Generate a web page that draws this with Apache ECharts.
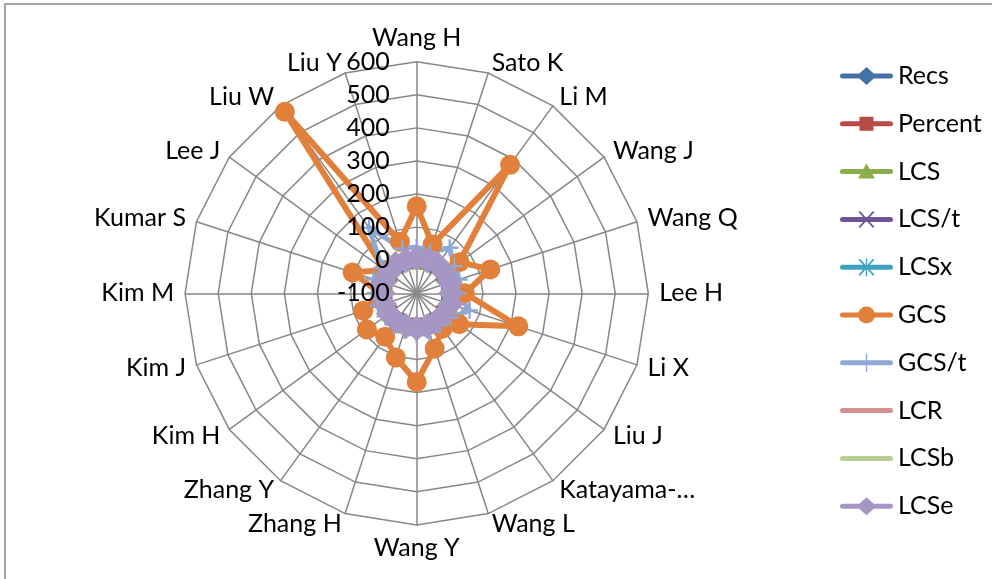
<!DOCTYPE html>
<html><head><meta charset="utf-8">
<script src="https://cdn.jsdelivr.net/npm/echarts@6/dist/echarts.min.js"></script>
<style>html,body{margin:0;padding:0;background:#fff}#c{width:992px;height:579px}</style>
</head><body><div id="c"></div><script>
const categories = ['Wang H','Sato K','Li M','Wang J','Wang Q','Lee H','Li X','Liu J','Katayama-…','Wang L','Wang Y','Zhang H','Zhang Y','Kim H','Kim J','Kim M','Kumar S','Lee J','Liu W','Liu Y'];
const seriesNames = ['Recs','Percent','LCS','LCS/t','LCSx','GCS','GCS/t','LCR','LCSb','LCSe'];
const recs    = [6,3,9,3,4,3,6,3,2,3,5,3,3,3,3,2,4,3,10,4];
const percent = [1.2,0.6,1.8,0.6,0.8,0.6,1.2,0.6,0.4,0.6,1.0,0.6,0.6,0.6,0.6,0.4,0.8,0.6,2.0,0.8];
const lcs     = [3,1,6,1,2,1,4,1,0,1,2,1,1,1,1,0,2,1,8,2];
const lcsT    = [0.5,0.2,1.0,0.2,0.3,0.2,0.6,0.2,0.0,0.2,0.3,0.2,0.2,0.2,0.2,0.0,0.3,0.2,1.2,0.3];
const lcsX    = [2,1,4,1,1,1,2,1,0,1,1,1,1,1,1,0,1,1,5,1];
const gcs     = [163,55,380,60,134,46,223,59,32,76,168,104,62,86,70,10,104,20,578,64];
const gcsT    = [40,30,70,40,35,24,68,26,20,24,26,18,18,18,22,26,38,30,145,42];
const lcr     = [4,2,7,2,3,2,5,2,1,2,4,2,2,2,2,1,3,2,9,3];
const lcsB    = [3,1,5,1,2,1,3,1,1,1,2,1,1,1,1,1,2,1,6,2];
const lcsE    = [6,4,8,4,5,4,7,4,3,4,6,4,4,4,4,3,5,4,9,5];
const radialMin = -100, radialMax = 600, radialSplits = 7;

const values = [recs, percent, lcs, lcsT, lcsX, gcs, gcsT, lcr, lcsB, lcsE];
const colors = ['#4472A8','#B94A48','#8AAE4B','#6F5496','#3FA3C0','#E0803A','#8EA9D6','#D6908F','#B8D094','#A596C4'];
const pX = 'path://M0,1.2 L1.2,0 L10,8.8 L8.8,10 Z M8.8,0 L10,1.2 L1.2,10 L0,8.8 Z';
const pAst = 'path://M0,1.2 L1.2,0 L10,8.8 L8.8,10 Z M8.8,0 L10,1.2 L1.2,10 L0,8.8 Z M4.4,0 L5.6,0 L5.6,10 L4.4,10 Z';
const pPlus = 'path://M4.3,0 L5.7,0 L5.7,4.3 L10,4.3 L10,5.7 L5.7,5.7 L5.7,10 L4.3,10 L4.3,5.7 L0,5.7 L0,4.3 L4.3,4.3 Z';
const symbols = ['diamond','rect','triangle',pX,pAst,'circle',pPlus,'none','none','diamond'];
const symSizes = [20,15,17,14,14,20,17,0,0,26];
const lineWidths = [5,5,5,5,5,6,5,5,5,6];

const bar = 'M0,0 M53,18 M2.5,6.5 L50.5,6.5 A2.5,2.5 0 0 1 50.5,11.5 L2.5,11.5 A2.5,2.5 0 0 1 2.5,6.5 Z';
const legendIcons = [
  'path://' + bar + ' M26.5,0 L36.5,9 L26.5,18 L16.5,9 Z',
  'path://' + bar + ' M19.5,2 L33.5,2 L33.5,16 L19.5,16 Z',
  'path://' + bar + ' M26.5,1 L35,16 L18,16 Z',
  'path://' + bar + ' M18.5,1.5 L20,0.5 L34.5,16.5 L33,17.5 Z M33,0.5 L34.5,1.5 L20,17.5 L18.5,16.5 Z',
  'path://' + bar + ' M18.5,1.5 L20,0.5 L34.5,16.5 L33,17.5 Z M33,0.5 L34.5,1.5 L20,17.5 L18.5,16.5 Z M25.8,0 L27.2,0 L27.2,18 L25.8,18 Z',
  'path://' + bar + ' M18,9 A8.5,8.5 0 1 1 35,9 A8.5,8.5 0 1 1 18,9 Z',
  'path://' + bar + ' M25.8,0 L27.2,0 L27.2,18 L25.8,18 Z',
  'path://' + bar,
  'path://' + bar,
  'path://' + bar + ' M26.5,0 L36.5,9 L26.5,18 L16.5,9 Z'
];

// ECharts radar runs counter-clockwise; reorder so categories run clockwise like the reference
const order = categories.map((_, i) => (categories.length - i) % categories.length);
const FONT = 'Lato';
const CX = 416.7, CY = 293.3, R = 231.6;
const indicator = order.map(i => ({ name: categories[i], min: radialMin, max: radialMax }));
const labelIndicator = order.map(i => ({ name: categories[i], min: radialMin, max: radialMax }));
labelIndicator[0].axisLabel = { show: true, color: '#000', fontSize: 25, fontFamily: FONT, showMinLabel: true, showMaxLabel: true, margin: 27, padding: [4, 0, 0, 0] };

const series = seriesNames.map((n, k) => ({
  type: 'radar',
  name: n,
  radarIndex: 0,
  symbol: symbols[k],
  symbolSize: symSizes[k],
  emphasis: { disabled: true },
  lineStyle: { color: colors[k], width: lineWidths[k] },
  itemStyle: { color: colors[k], borderWidth: 0 },
  data: [{ name: n, value: order.map(i => values[k][i]) }]
}));

const chart = echarts.init(document.getElementById('c'), null, { renderer: 'canvas' });
chart.setOption({
  animation: false,
  backgroundColor: '#fff',
  graphic: [{ type: 'rect', silent: true, shape: { x: 5, y: 4, width: 1200, height: 800 },
              style: { fill: 'none', stroke: '#8a8a8a', lineWidth: 1.5 } }],
  legend: {
    orient: 'vertical', left: 835, top: 58.5, itemWidth: 53, itemHeight: 18, itemGap: 22.8,
    textStyle: { fontSize: 25, fontFamily: FONT, color: '#000' },
    itemStyle: { borderWidth: 0 },
    selectedMode: false,
    data: seriesNames.map((n, k) => ({ name: n, icon: legendIcons[k], itemStyle: { color: colors[k] } }))
  },
  radar: [{
    center: [CX, CY], radius: R, startAngle: 90, splitNumber: radialSplits, shape: 'polygon', z: 1,
    axisName: { color: '#000', fontSize: 25, fontFamily: FONT }, nameGap: 11,
    axisLine: { lineStyle: { color: '#878787', width: 1.5 } },
    splitLine: { lineStyle: { color: '#878787', width: 1.5 } },
    splitArea: { show: false },
    axisTick: { show: false },
    axisLabel: { show: false },
    indicator: indicator
  }, {
    center: [CX, CY], radius: R, startAngle: 90, splitNumber: radialSplits, shape: 'polygon', z: 10,
    axisName: { show: false },
    axisLine: { show: false },
    splitLine: { show: false },
    splitArea: { show: false },
    axisTick: { show: false },
    axisLabel: { show: false },
    indicator: labelIndicator
  }],
  series: series
});
</script></body></html>
